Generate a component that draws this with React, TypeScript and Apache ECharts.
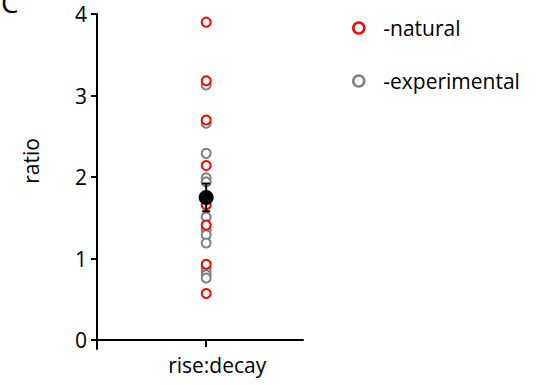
import React, { useEffect, useRef } from "react";
import * as echarts from "echarts";

const naturalValues = [3.9, 3.18, 2.7, 2.14, 1.66, 1.41, 0.93, 0.57];
const experimentalValues = [3.13, 2.66, 2.29, 1.99, 1.94, 1.51, 1.35, 1.29, 1.19, 0.88, 0.84, 0.8, 0.76];
const meanValue = 1.75;
const semValue = 0.17;
const yTicks = [0, 1, 2, 3, 4];
const categoryLabel = "rise:decay";
const categoryPos = 0.53;
const seriesNames = ["-natural", "-experimental"];

const FONT = "'Open Sans', sans-serif";

export default function App() {
  const ref = useRef<HTMLDivElement>(null);
  useEffect(() => {
    if (!ref.current) return;
    const chart = echarts.init(ref.current, null, { renderer: "svg" });
    const option: any = {
      animation: false,
      backgroundColor: "#fff",
      grid: { left: 97, right: 235, top: 14, bottom: 36, containLabel: false },
      xAxis: {
        type: "value",
        min: 0,
        max: 1,
        axisLine: { show: true, lineStyle: { color: "#000", width: 2 } },
        axisTick: { show: true, customValues: [categoryPos], length: 7, lineStyle: { color: "#000", width: 2 } },
        axisLabel: {
          show: true,
          customValues: [categoryPos],
          formatter: () => categoryLabel,
          color: "#000",
          fontSize: 21,
          fontFamily: FONT,
          margin: 5,
          padding: [0, 0, 0, 22],
        },
        splitLine: { show: false },
      },
      yAxis: {
        type: "value",
        min: -0.11,
        max: 4,
        axisLine: { show: true, lineStyle: { color: "#000", width: 2 } },
        axisTick: { show: true, customValues: yTicks, length: 6, lineStyle: { color: "#000", width: 2 } },
        axisLabel: {
          show: true,
          customValues: yTicks,
          color: "#000",
          fontSize: 21,
          fontFamily: FONT,
          margin: 10,
        },
        splitLine: { show: false },
      },
      legend: {
        orient: "vertical",
        left: 347,
        top: 12,
        itemWidth: 11,
        itemHeight: 11,
        itemGap: 31,
        textStyle: { fontSize: 21, fontFamily: FONT, color: "#000", padding: [0, 0, 0, 14], lineHeight: 22 },
        data: [
          { name: seriesNames[0], icon: "circle", itemStyle: { color: "#fff", borderColor: "#ff0000", borderWidth: 2.5 } },
          { name: seriesNames[1], icon: "circle", itemStyle: { color: "#fff", borderColor: "#7f7f7f", borderWidth: 2.5 } },
        ],
      },
      graphic: [
        { type: "text", left: 1, top: -12, style: { text: "C", fontSize: 28, fontFamily: FONT, fill: "#000" } },
        {
          type: "text",
          x: 31,
          y: 161,
          rotation: Math.PI / 2,
          style: { text: "ratio", fontSize: 21, fontFamily: FONT, fill: "#000", align: "center", verticalAlign: "middle" },
        },
      ],
      series: [
        {
          name: seriesNames[1],
          type: "scatter",
          symbol: "circle",
          symbolSize: 9,
          itemStyle: { color: "#fff", borderColor: "#7f7f7f", borderWidth: 2, opacity: 1 },
          data: experimentalValues.map((v) => [categoryPos, v]),
          z: 2,
        },
        {
          name: seriesNames[0],
          type: "scatter",
          symbol: "circle",
          symbolSize: 9,
          itemStyle: { color: "#fff", borderColor: "#ff0000", borderWidth: 2, opacity: 1 },
          data: naturalValues.map((v) => [categoryPos, v]),
          z: 3,
        },
        {
          name: "err",
          type: "custom",
          z: 4,
          data: [[categoryPos, meanValue - semValue, meanValue + semValue]],
          renderItem: (params: any, api: any) => {
            const lo = api.coord([api.value(0), api.value(1)]);
            const hi = api.coord([api.value(0), api.value(2)]);
            const w = 4;
            const st = { stroke: "#000", lineWidth: 2 };
            return {
              type: "group",
              children: [
                { type: "line", shape: { x1: lo[0], y1: lo[1], x2: hi[0], y2: hi[1] }, style: st },
                { type: "line", shape: { x1: hi[0] - w, y1: hi[1], x2: hi[0] + w, y2: hi[1] }, style: st },
                { type: "line", shape: { x1: lo[0] - w, y1: lo[1], x2: lo[0] + w, y2: lo[1] }, style: st },
              ],
            };
          },
        },
        {
          name: "mean",
          type: "scatter",
          symbol: "circle",
          symbolSize: 15,
          itemStyle: { color: "#000", opacity: 1 },
          data: [[categoryPos, meanValue]],
          z: 5,
        },
      ],
    };
    chart.setOption(option);
    return () => chart.dispose();
  }, []);
  return <div ref={ref} style={{ width: 538, height: 385, position: "absolute", left: 0, top: 0 }} />;
}
